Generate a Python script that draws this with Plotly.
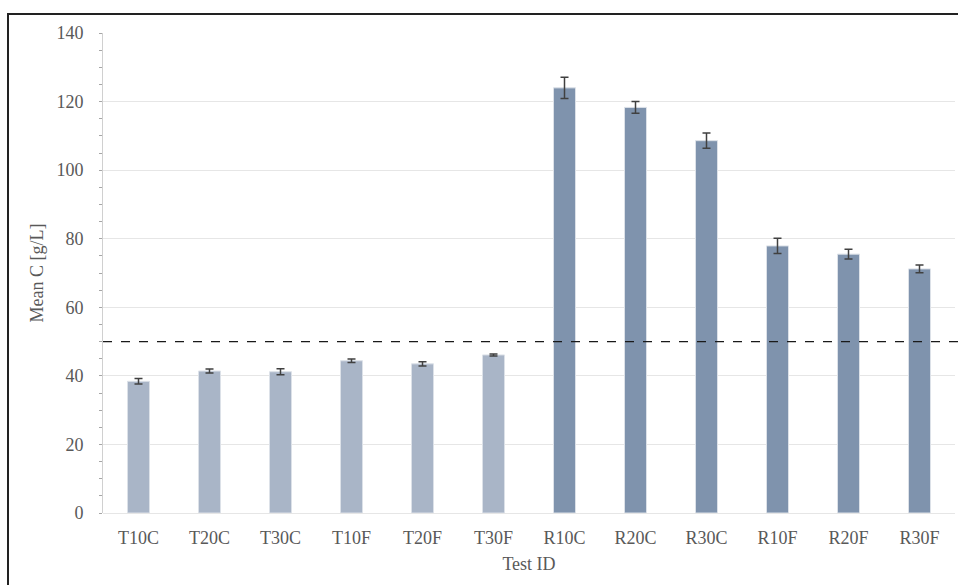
import plotly.graph_objects as go

# Mean concentration per test, with standard deviation
test_ids = ["T10C", "T20C", "T30C", "T10F", "T20F", "T30F",
            "R10C", "R20C", "R30C", "R10F", "R20F", "R30F"]
mean_c = [38.4, 41.4, 41.2, 44.4, 43.5, 46.1,
          124.0, 118.3, 108.6, 77.9, 75.5, 71.2]
std_c = [0.8, 0.6, 0.9, 0.5, 0.6, 0.3,
         3.1, 1.7, 2.2, 2.2, 1.4, 1.1]
threshold = 50

light = "#A9B5C7"
dark = "#7F93AD"
colors = [light if t.startswith("T") else dark for t in test_ids]

font_family = "Liberation Serif, DejaVu Serif, serif"
text_color = "#595959"

fig = go.Figure()
fig.add_trace(go.Bar(
    x=test_ids,
    y=mean_c,
    width=0.31,
    marker=dict(color=colors, line=dict(color="#DCE1E8", width=1)),
    error_y=dict(type="data", array=std_c, visible=True,
                 color="#404040", thickness=1.5, width=4),
    showlegend=False,
))

# Reference level
fig.add_shape(type="line", xref="paper", yref="y",
              x0=0, x1=1.0035, y0=threshold, y1=threshold,
              line=dict(color="#1a1a1a", width=1.3, dash="dash"))

# Outer frame
fig.add_shape(type="rect", xref="paper", yref="paper",
              x0=-0.1115, x1=1.2, y0=-0.3, y1=1.0396,
              line=dict(color="#222222", width=2), fillcolor="rgba(0,0,0,0)",
              layer="below")

fig.update_layout(
    width=958, height=585,
    margin=dict(l=103, r=3, t=33, b=72),
    paper_bgcolor="white", plot_bgcolor="white",
    font=dict(family=font_family, size=18, color=text_color),
    bargap=0.69,
    xaxis=dict(
        title=dict(text="Test ID", font=dict(size=18, color=text_color), standoff=10),
        showgrid=False, showline=False, ticks="",
        tickfont=dict(size=18, color=text_color),
        ticklabelstandoff=12,
    ),
    yaxis=dict(
        title=dict(text="Mean C [g/L]", font=dict(size=18, color=text_color), standoff=8),
        range=[0, 140], dtick=20,
        showgrid=True, gridcolor="#E6E6E6", gridwidth=1,
        zeroline=True, zerolinecolor="#E6E6E6", zerolinewidth=1,
        showline=True, linecolor="#D0D0D0", linewidth=1,
        ticks="outside", ticklen=3, tickcolor="#A6A6A6",
        minor=dict(dtick=5, ticks="outside", ticklen=3, tickcolor="#A6A6A6", showgrid=False),
        tickfont=dict(size=18, color=text_color),
        ticklabelstandoff=12,
    ),
)

fig.write_html("out.html")
